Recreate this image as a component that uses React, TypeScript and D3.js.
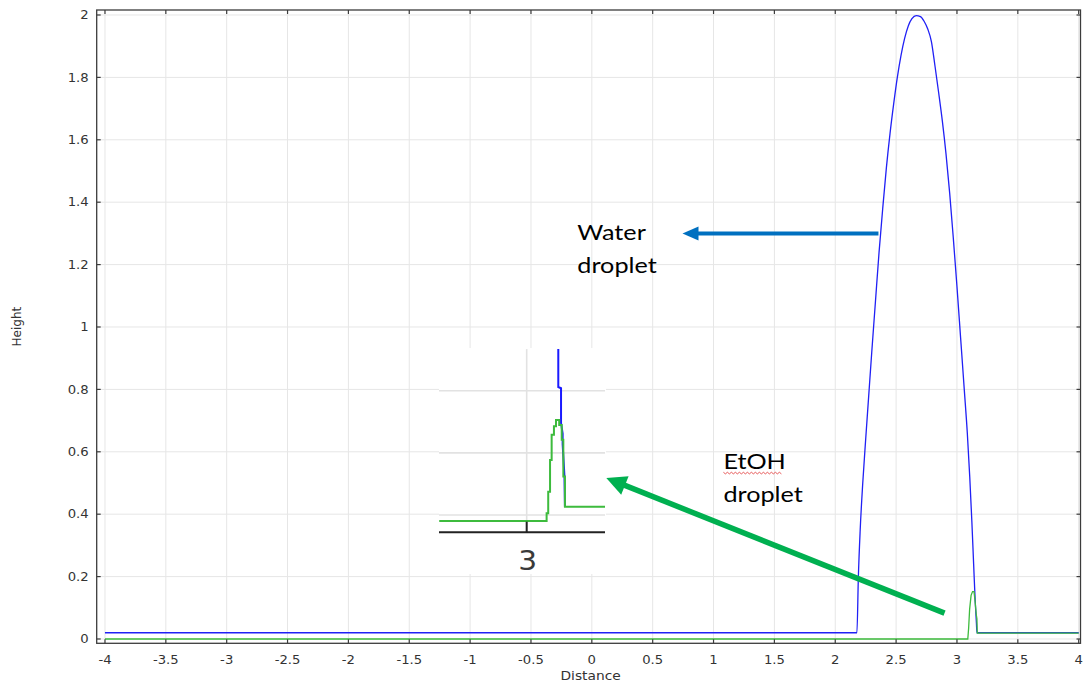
import React from "react";
import * as d3 from "d3";

// ---------- data ----------
const blueX = [-4, 2.178, 2.19, 2.205, 2.226, 2.25, 2.275, 2.3, 2.33, 2.36, 2.39, 2.42, 2.45, 2.48, 2.51, 2.54, 2.57, 2.6, 2.63, 2.665, 2.7, 2.73, 2.76, 2.79, 2.82, 2.85, 2.88, 2.91, 2.94, 2.97, 3.0, 3.03, 3.06, 3.085, 3.105, 3.122, 3.137, 3.15, 3.16, 3.164, 4];
const blueY = [0.02, 0.02, 0.2, 0.35, 0.5, 0.64, 0.78, 0.92, 1.08, 1.24, 1.38, 1.51, 1.62, 1.715, 1.8, 1.87, 1.925, 1.965, 1.988, 1.998, 1.995, 1.98, 1.955, 1.915, 1.835, 1.75, 1.66, 1.555, 1.43, 1.285, 1.13, 0.965, 0.8, 0.66, 0.52, 0.38, 0.24, 0.12, 0.05, 0.02, 0.02];

const greenX = [-4, 3.089, 3.096, 3.104, 3.116, 3.128, 3.14, 3.148, 3.158, 3.164, 3.167, 4];
const greenY = [0, 0, 0.035, 0.095, 0.14, 0.152, 0.152, 0.125, 0.08, 0.065, 0.019, 0.019];

const xTickValues = [-4, -3.5, -3, -2.5, -2, -1.5, -1, -0.5, 0, 0.5, 1, 1.5, 2, 2.5, 3, 3.5, 4];
const xTickLabels = ["-4", "-3.5", "-3", "-2.5", "-2", "-1.5", "-1", "-0.5", "0", "0.5", "1", "1.5", "2", "2.5", "3", "3.5", "4"];
const yTickValues = [0, 0.2, 0.4, 0.6, 0.8, 1, 1.2, 1.4, 1.6, 1.8, 2];
const yTickLabels = ["0", "0.2", "0.4", "0.6", "0.8", "1", "1.2", "1.4", "1.6", "1.8", "2"];

// inset (zoomed view of the EtOH peak)
const insetGreenX = [2.618, 3.087, 3.094, 3.102, 3.109, 3.119, 3.128, 3.142, 3.153, 3.16, 3.167, 3.342];
const insetGreenY = [-0.0097, 0.0027, 0.0375, 0.0885, 0.129, 0.143, 0.153, 0.145, 0.121, 0.062, 0.0134, 0.0134];
const insetBlueX = [3.138, 3.138, 3.15, 3.15, 3.157, 3.157, 3.165, 3.167];
const insetBlueY = [0.267, 0.206, 0.204, 0.148, 0.131, 0.114, 0.062, 0.0134];
const insetGridY = [0, 0.1, 0.2];
const insetTickValues = [3];
const insetTickLabels = ["3"];

// annotations (data coordinates)
const waterLabel = ["Water", "droplet"];
const waterLabelPos = [-0.119, 1.279, 1.172];
const etohLabel = ["EtOH", "droplet"];
const etohLabelPos = [1.081, 0.544, 0.44];
const waterArrow = [2.355, 1.3, 0.745, 1.3];
const etohArrow = [2.898, 0.083, 0.119, 0.516];

const BLUE = "#2020f5";
const GREEN = "#3dbb3d";
const GRID = "#e6e6e6";
const AXIS = "#3c3c3c";
const TXT = "#333333";
const FONT = "'DejaVu Sans', Verdana, sans-serif";
const NOTE_FONT = "Lato, 'Open Sans', sans-serif";

function arrow(x1: number, y1: number, x2: number, y2: number, headLen: number, headHalf: number) {
  const dx = x2 - x1, dy = y2 - y1;
  const len = Math.hypot(dx, dy);
  const ux = dx / len, uy = dy / len;
  const bx = x2 - ux * headLen, by = y2 - uy * headLen;
  const px = -uy, py = ux;
  return {
    lx2: x2 - ux * (headLen - 2),
    ly2: y2 - uy * (headLen - 2),
    head: `M${x2},${y2}L${bx + px * headHalf},${by + py * headHalf}L${bx - px * headHalf},${by - py * headHalf}Z`,
  };
}

export default function App() {
  const x = d3.scaleLinear().domain([-4.068, 4.015]).range([96.7, 1080.5]);
  const y = d3.scaleLinear().domain([-0.0138, 2.016]).range([643.3, 10]);
  const line = d3.line<[number, number]>().x((d) => x(d[0])).y((d) => y(d[1]));

  const bluePts = blueX.map((v, i) => [v, blueY[i]] as [number, number]);
  const greenPts = greenX.map((v, i) => [v, greenY[i]] as [number, number]);

  const [x0, x1] = x.range();
  const [yb, yt] = y.range();

  // inset scales
  const ix = d3.scaleLinear().domain([2.617, 3.342]).range([439, 605]);
  const iy = d3.scaleLinear().domain([-0.0277, 0.267]).range([532.2, 349.1]);
  const iLineStep = d3.line<[number, number]>().x((d) => ix(d[0])).y((d) => iy(d[1])).curve(d3.curveStepAfter);
  const iLine = d3.line<[number, number]>().x((d) => ix(d[0])).y((d) => iy(d[1]));
  const iGreen = insetGreenX.map((v, i) => [v, insetGreenY[i]] as [number, number]);
  const iBlue = insetBlueX.map((v, i) => [v, insetBlueY[i]] as [number, number]);

  const wa = arrow(x(waterArrow[0]), y(waterArrow[1]), x(waterArrow[2]), y(waterArrow[3]), 16, 7);
  const ea = arrow(x(etohArrow[0]), y(etohArrow[1]), x(etohArrow[2]), y(etohArrow[3]), 20, 10);

  // red spell-check squiggle under "EtOH"
  const sqX0 = x(etohLabelPos[0]);
  const sqY = y(etohLabelPos[1]) + 3;
  const squiggle = d3.range(0, 30).map((i) => `${i === 0 ? "M" : "L"}${sqX0 + i * 2},${sqY + (i % 2 === 0 ? 0 : 1.6)}`).join("");

  return (
    <svg width={1085} height={683} style={{ position: "absolute", left: 0, top: 0, background: "#fff" }}>
      <rect x={0} y={0} width={1085} height={683} fill="#fff" />
      {/* grid */}
      {xTickValues.map((v) => (
        <line key={"gx" + v} x1={x(v)} x2={x(v)} y1={yt} y2={yb} stroke={GRID} strokeWidth={1} />
      ))}
      {yTickValues.map((v) => (
        <line key={"gy" + v} x1={x0} x2={x1} y1={y(v)} y2={y(v)} stroke={GRID} strokeWidth={1} />
      ))}

      {/* series */}
      <path d={line.curve(d3.curveMonotoneX)(bluePts) || ""} fill="none" stroke={BLUE} strokeWidth={1.3} />
      <path d={line.curve(d3.curveLinear)(greenPts) || ""} fill="none" stroke={GREEN} strokeWidth={1.3} />

      {/* frame */}
      <rect x={x0} y={yt} width={x1 - x0} height={yb - yt} fill="none" stroke={AXIS} strokeWidth={1.3} />
      {xTickValues.map((v) => (
        <g key={"tx" + v}>
          <line x1={x(v)} x2={x(v)} y1={yb} y2={yb - 4} stroke={AXIS} strokeWidth={1.2} />
          <line x1={x(v)} x2={x(v)} y1={yt} y2={yt + 4} stroke={AXIS} strokeWidth={1.2} />
        </g>
      ))}
      {yTickValues.map((v) => (
        <g key={"ty" + v}>
          <line x1={x0} x2={x0 + 4} y1={y(v)} y2={y(v)} stroke={AXIS} strokeWidth={1.2} />
          <line x1={x1} x2={x1 - 4} y1={y(v)} y2={y(v)} stroke={AXIS} strokeWidth={1.2} />
        </g>
      ))}

      {/* tick labels */}
      {xTickValues.map((v, i) => (
        <g key={"lx" + v} transform={`translate(${x(v)},${yb + 21}) scale(1.1,1)`}>
          <text textAnchor="middle" fontFamily={FONT} fontSize={12} fill={TXT}>{xTickLabels[i]}</text>
        </g>
      ))}
      {yTickValues.map((v, i) => (
        <g key={"ly" + v} transform={`translate(${x0 - 8},${y(v) + 4.3}) scale(1.1,1)`}>
          <text textAnchor="end" fontFamily={FONT} fontSize={12} fill={TXT}>{yTickLabels[i]}</text>
        </g>
      ))}

      {/* axis titles */}
      <g transform={`translate(${(x0 + x1) / 2 + 2},${yb + 37}) scale(1.15,1)`}>
        <text textAnchor="middle" fontFamily={FONT} fontSize={12} fill={TXT}>Distance</text>
      </g>
      <text transform={`translate(21,${(yt + yb) / 2}) rotate(-90)`} textAnchor="middle" fontFamily={FONT} fontSize={12} fill={TXT}>Height</text>

      {/* inset */}
      <rect x={439} y={348} width={167} height={226} fill="#fff" />
      {insetGridY.map((v) => (
        <line key={"ig" + v} x1={ix.range()[0]} x2={ix.range()[1]} y1={iy(v)} y2={iy(v)} stroke="#e2e2e2" strokeWidth={1.6} />
      ))}
      {insetTickValues.map((v) => (
        <line key={"igx" + v} x1={ix(v)} x2={ix(v)} y1={iy.range()[1]} y2={iy.range()[0]} stroke="#e2e2e2" strokeWidth={1.6} />
      ))}
      <path d={iLine(iBlue) || ""} fill="none" stroke="#1a1aff" strokeWidth={2} />
      <path d={iLineStep(iGreen) || ""} fill="none" stroke={GREEN} strokeWidth={2} />
      <line x1={ix.range()[0]} x2={ix.range()[1]} y1={iy.range()[0]} y2={iy.range()[0]} stroke="#222" strokeWidth={2} />
      {insetTickValues.map((v, i) => (
        <g key={"it" + v}>
          <line x1={ix(v)} x2={ix(v)} y1={iy.range()[0]} y2={iy.range()[0] - 10.5} stroke="#222" strokeWidth={2} />
          <g transform={`translate(${ix(v) + 1},${iy.range()[0] + 38}) scale(1.1,1)`}>
            <text textAnchor="middle" fontFamily={FONT} fontSize={27} fill="#3a3a3a">{insetTickLabels[i]}</text>
          </g>
        </g>
      ))}

      {/* arrows */}
      <line x1={x(waterArrow[0])} y1={y(waterArrow[1])} x2={wa.lx2} y2={wa.ly2} stroke="#0070C0" strokeWidth={4} />
      <path d={wa.head} fill="#0070C0" />
      <line x1={x(etohArrow[0])} y1={y(etohArrow[1])} x2={ea.lx2} y2={ea.ly2} stroke="#00B050" strokeWidth={5.5} />
      <path d={ea.head} fill="#00B050" />

      {/* annotation text */}
      {waterLabel.map((t, i) => (
        <g key={"wl" + i} transform={`translate(${x(waterLabelPos[0])},${y(waterLabelPos[1 + i])}) scale(1.2,1)`}>
          <text fontFamily={NOTE_FONT} fontSize={21} fill="#000">{t}</text>
        </g>
      ))}
      {etohLabel.map((t, i) => (
        <g key={"el" + i} transform={`translate(${x(etohLabelPos[0])},${y(etohLabelPos[1 + i])}) scale(1.2,1)`}>
          <text fontFamily={NOTE_FONT} fontSize={21} fill="#000">{t}</text>
        </g>
      ))}
      <path d={squiggle} fill="none" stroke="#e03030" strokeWidth={0.8} />
    </svg>
  );
}
